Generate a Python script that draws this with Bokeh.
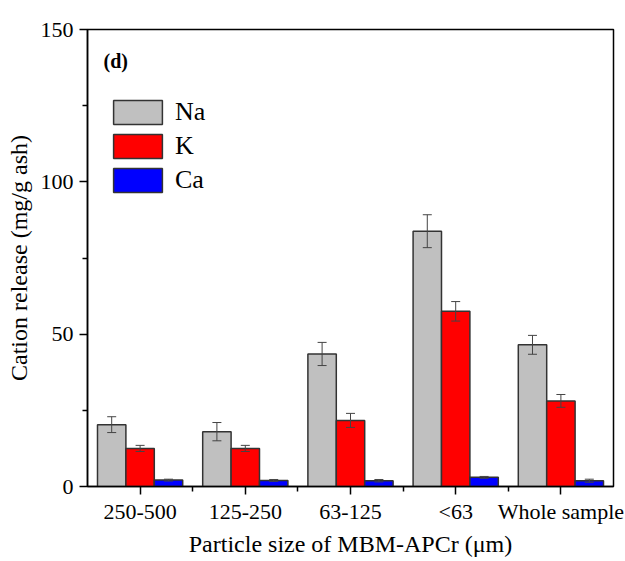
from bokeh.plotting import figure
from bokeh.models import (ColumnDataSource, Range1d, FixedTicker, Whisker, TeeHead,
                          Legend, LegendItem, Label)
from bokeh.embed import file_html
from bokeh.resources import INLINE

categories = ["250-500", "125-250", "63-125", "<63", "Whole sample"]
na = [20.3, 18.0, 43.5, 83.8, 46.5]
na_err = [2.6, 3.0, 3.8, 5.4, 3.1]
k = [12.5, 12.5, 21.7, 57.5, 28.1]
k_err = [1.0, 1.0, 2.3, 3.2, 2.1]
ca = [2.1, 2.0, 1.9, 3.0, 1.9]
ca_err = [0.3, 0.3, 0.4, 0.3, 0.5]
series_names = ["Na", "K", "Ca"]
series_colors = ["#c0c0c0", "#ff0000", "#0000ff"]

FONT = "Liberation Serif"
W = 0.27

p = figure(width=625, height=561, output_backend="svg", toolbar_location=None,
           x_range=Range1d(-0.5, 4.5), y_range=Range1d(0, 150),
           min_border_left=87, min_border_right=12, min_border_top=29, min_border_bottom=75)
p.grid.visible = False
p.outline_line_color = "black"
p.outline_line_width = 1.5

idx = list(range(len(categories)))
renderers = []
for j, (vals, errs, col) in enumerate(zip([na, k, ca], [na_err, k_err, ca_err], series_colors)):
    xs = [i + (j - 1) * W for i in idx]
    src = ColumnDataSource(dict(x=xs, top=vals,
                                upper=[v + e for v, e in zip(vals, errs)],
                                lower=[v - e for v, e in zip(vals, errs)]))
    r = p.vbar(x="x", top="top", width=W, bottom=0, source=src, fill_color=col,
               line_color="#333333", line_width=1.5)
    renderers.append(r)
    wh = Whisker(base="x", upper="upper", lower="lower", source=src, level="overlay",
                 line_color="#444444", line_width=1,
                 upper_head=TeeHead(size=9, line_color="#444444", line_width=1),
                 lower_head=TeeHead(size=9, line_color="#444444", line_width=1))
    p.add_layout(wh)

# axes
xa = p.xaxis[0]
xa.ticker = FixedTicker(ticks=idx, minor_ticks=[i + 0.5 for i in idx[:-1]])
xa.major_label_overrides = {i: c for i, c in enumerate(categories)}
ya = p.yaxis[0]
ya.ticker = FixedTicker(ticks=[0, 50, 100, 150], minor_ticks=[25, 75, 125])
for ax in (xa, ya):
    ax.axis_line_color = "black"
    ax.axis_line_width = 1.5
    ax.major_tick_line_color = "black"
    ax.major_tick_line_width = 1.5
    ax.minor_tick_line_color = "black"
    ax.minor_tick_line_width = 1.5
    ax.major_tick_in = 0
    ax.major_tick_out = 8
    ax.minor_tick_in = 0
    ax.minor_tick_out = 5
    ax.major_label_text_font = FONT
    ax.major_label_text_font_size = "22px"
    ax.major_label_text_color = "black"
    ax.axis_label_text_font = FONT
    ax.axis_label_text_font_size = "24px"
    ax.axis_label_text_font_style = "normal"
    ax.axis_label_text_color = "black"
xa.major_label_standoff = 4
ya.major_label_standoff = 6
xa.axis_label = "Particle size of MBM-APCr (\u03bcm)"
ya.axis_label = "Cation release (mg/g ash)"
xa.axis_label_standoff = 4
ya.axis_label_standoff = 6

legend = Legend(items=[LegendItem(label=n, renderers=[r]) for n, r in zip(series_names, renderers)],
                location=(20, 291), orientation="vertical",
                glyph_width=61, glyph_height=30, spacing=4, padding=0, margin=0,
                label_standoff=7, label_text_font=FONT, label_text_font_size="26px",
                label_text_color="black", border_line_alpha=0, background_fill_alpha=0,
                label_height=30)
p.add_layout(legend)

p.add_layout(Label(x=-0.348, y=139.8, text="(d)", text_font=FONT, text_font_size="20px",
                   text_font_style="bold", text_baseline="middle", text_color="black"))

open("out.html", "w").write(file_html(p, INLINE))
